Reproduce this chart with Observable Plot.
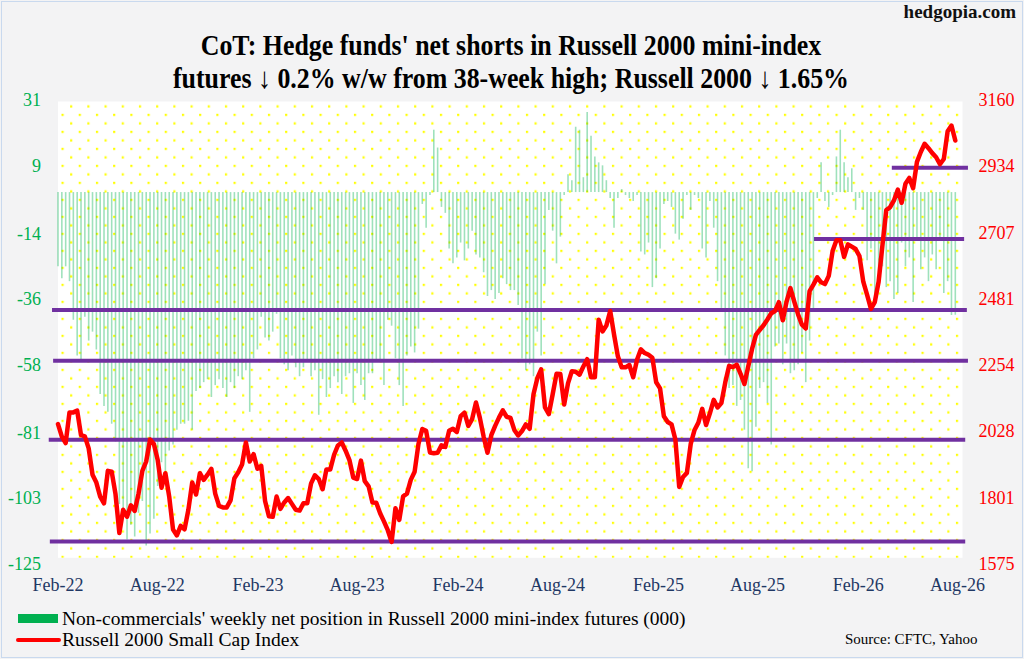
<!DOCTYPE html>
<html>
<head>
<meta charset="utf-8">
<script src="https://cdn.jsdelivr.net/npm/d3@7"></script>
<script src="https://cdn.jsdelivr.net/npm/@observablehq/plot@0.6"></script>
<style>
  html, body { margin: 0; padding: 0; }
  body { width: 1024px; height: 659px; position: relative; overflow: hidden; background: #f3f3f4;
         font-family: "Liberation Serif", "Times New Roman", serif; }
  .border { position: absolute; left: 1px; top: 1px; width: 1020px; height: 655px; border: 1px solid #c9d9ee; box-sizing: content-box; }
  .brand { position: absolute; top: 0px; left: 880px; width: 136px; text-align: right; font-weight: bold; font-size: 19px; line-height: 24px; color: #111; }
  .t { position: absolute; left: 0; width: 1022px; font-weight: bold; font-size: 29.5px; line-height: 30px; text-align: center; color: #000;
       white-space: nowrap; transform: scaleX(0.877); transform-origin: 511px 0; }
  #chart { position: absolute; left: 0; top: 88px; }
  .lg { position: absolute; font-size: 19.5px; line-height: 19px; color: #000; white-space: nowrap; }
  .src { position: absolute; font-size: 15px; line-height: 15px; color: #000; white-space: nowrap; }
</style>
</head>
<body>
<div class="border"></div>
<div class="brand">hedgopia.com</div>
<div class="t" style="top:30px;">CoT: Hedge funds' net shorts in Russell 2000 mini-index</div>
<div class="t" style="top:63px;">futures ↓ 0.2% w/w from 38-week high; Russell 2000 ↓ 1.65%</div>
<div id="chart"></div>
<div style="position:absolute; left:18px; top:614px; width:40px; height:9px; background:#00b050;"></div>
<div class="lg" style="left:62px; top:609px;">Non-commercials' weekly net position in Russell 2000 mini-index futures (000)</div>
<div style="position:absolute; left:16px; top:638px; width:45px; height:4px; border-radius:2px; background:#ff0000;"></div>
<div class="lg" style="left:62px; top:630px;">Russell 2000 Small Cap Index</div>
<div class="src" style="left:845px; top:632px;">Source: CFTC, Yahoo</div>
<script>
// ---- data ----
const startDate = "2022-02-01"; // first weekly observation
// Non-commercials' weekly net position (000 contracts)
const netPosition = [
-25,-29,-25,-30,-43,-55,-57,-42,-50,-47,
-53,-68,-72,-74,-78,-84,-105,-110,-117,-112,
-116,-108,-104,-119,-115,-110,-99,-91,-94,-87,
-85,-80,-78,-78,-77,-80,-67,-66,-64,-63,
-69,-65,-63,-66,-69,-64,-66,-62,-63,-60,
-74,-56,-53,-42,-49,-50,-47,-41,-56,-58,
-60,-55,-59,-62,-59,-57,-62,-60,-75,-63,
-69,-66,-62,-64,-68,-62,-61,-71,-61,-65,
-70,-61,-61,-57,-57,-65,-43,-45,-56,-65,
-72,-55,-52,-54,-46,-4,-12,-1,21,15,
-5,-7,-19,-24,-22,-17,-23,-19,-13,-21,
-22,-27,-35,-33,-36,-34,-29,-31,-33,-33,
-38,-56,-60,-58,-62,-47,-55,-31,-6,-13,
-24,-15,-1,6,4,22,21,5,27,19,
12,10,9,4,-2,-12,-2,1,-1,-2,
-3,-1,-20,-21,-17,-32,-29,-19,-4,-3,
-5,-14,-16,-9,-1,-6,-1,-2,-19,-22,
-3,-12,-30,-39,-55,-66,-65,-72,-70,-80,
-93,-94,-79,-66,-64,-71,-85,-52,-51,-58,
-51,-61,-60,-58,-54,-64,-50,-40,-2,10,
-3,-5,-1,12,21,10,5,8,-6,-2,
-6,-23,-19,-35,-27,-25,-32,-30,-36,-34,
-17,-25,-22,-37,-16,-26,-22,-30,-21,-26,
-16,-34,-30,-41.4,-41.3
];
// Russell 2000 Small Cap Index (weekly close)
const russell = [
2053,2010,1988,2093,2093,2099,2015,2011,1970,1880,
1853,1805,1782,1893,1890,1813,1680,1760,1736,1775,
1756,1815,1893,1925,2000,1985,1930,1835,1885,1805,
1692,1672,1705,1693,1760,1853,1812,1885,1862,1880,
1900,1815,1773,1768,1768,1792,1868,1888,1915,1990,
1925,1950,1900,1910,1790,1738,1736,1805,1763,1785,
1800,1780,1760,1757,1782,1782,1850,1878,1865,1830,
1898,1898,1948,1980,1990,1962,1930,1870,1865,1928,
1858,1840,1785,1784,1748,1720,1690,1650,1765,1725,
1806,1815,1862,1890,1985,2036,2030,1956,1953,1955,
1980,1975,2030,2037,2026,2080,2092,2047,2070,2127,
2075,2010,1955,2015,2047,2075,2100,2078,2074,2033,
2014,2029,2052,2037,2155,2210,2240,2110,2087,2155,
2225,2224,2120,2192,2234,2232,2222,2250,2275,2213,
2213,2410,2370,2390,2440,2360,2285,2247,2247,2255,
2213,2273,2309,2296,2290,2280,2196,2175,2080,2060,
2052,2000,1838,1872,1886,1985,2033,2058,2105,2050,
2090,2136,2110,2125,2195,2252,2248,2256,2225,2190,
2250,2310,2358,2375,2391,2411,2432,2440,2470,2408,
2472,2518,2472,2428,2393,2380,2508,2530,2555,2538,
2532,2560,2645,2682,2682,2625,2668,2660,2652,2628,
2540,2495,2447,2470,2540,2665,2785,2795,2818,2855,
2810,2875,2895,2860,2950,2984,3012,2997,2980,2966,
2942,2960,3055,3074,3023
];
// Horizontal support/resistance levels (Russell 2000 scale)
const levelValues = [1651, 1999, 2270, 2443, 2686, 2930];
const levelStarts = ["2022-01-18", "2022-01-16", "2022-01-24", "2022-01-22", "2025-11-13", "2026-04-04"];
const levelEnds   = ["2026-08-16", "2026-08-16", "2026-08-21", "2026-08-19", "2026-08-14", "2026-08-21"];
// Axis ticks
const leftTicks = [31, 9, -14, -36, -58, -81, -103, -125];
const rightTicks = [3160, 2934, 2707, 2481, 2254, 2028, 1801, 1575];
const xTickDates = ["2022-02-01","2022-08-01","2023-02-01","2023-08-01","2024-02-01","2024-08-01","2025-02-01","2025-08-01","2026-02-01","2026-08-01"];
const xTickLabels = ["Feb-22","Aug-22","Feb-23","Aug-23","Feb-24","Aug-24","Feb-25","Aug-25","Feb-26","Aug-26"];

// ---- build ----
const leftDomain = [-125, 31];
const rightDomain = [1575, 3160];
const toY = r => leftDomain[0] + (r - rightDomain[0]) * (leftDomain[1] - leftDomain[0]) / (rightDomain[1] - rightDomain[0]);
const fromY = y => rightDomain[0] + (y - leftDomain[0]) * (rightDomain[1] - rightDomain[0]) / (leftDomain[1] - leftDomain[0]);

const t0 = new Date(startDate + "T00:00:00Z");
const weeks = netPosition.map((v, i) => ({
  date: d3.utcDay.offset(t0, 7 * i),
  net: v,
  r: russell[i]
}));
const levels = levelValues.map((v, i) => ({
  y: toY(v),
  x1: new Date(levelStarts[i] + "T00:00:00Z"),
  x2: new Date(levelEnds[i] + "T00:00:00Z")
}));
const xTicks = xTickDates.map(d => new Date(d + "T00:00:00Z"));

const font = "'Liberation Serif', 'Times New Roman', serif";

const svg = Plot.plot({
  width: 1024,
  height: 512,
  marginTop: 12,
  marginBottom: 36.7,
  marginLeft: 57.5,
  marginRight: 67,
  style: { background: "transparent", fontFamily: font, overflow: "visible" },
  x: { type: "utc", domain: [new Date("2022-02-01T00:00:00Z"), new Date("2026-08-01T00:00:00Z")] },
  y: { domain: leftDomain },
  marks: [
    Plot.frame({ fill: "url(#dots)", stroke: "none", insetRight: -5, insetBottom: 6, insetTop: 1 }),
    Plot.ruleX(weeks, { x: "date", y1: 0, y2: "net", stroke: "#00b050", strokeOpacity: 0.38, strokeWidth: 1.6 }),
    Plot.ruleY(levels, { y: "y", x1: "x1", x2: "x2", stroke: "#7030a0", strokeWidth: 4 }),
    Plot.line(weeks, { x: "date", y: d => toY(d.r), stroke: "#ff0000", strokeWidth: 4.5, strokeLinejoin: "round", strokeLinecap: "round" }),
    Plot.axisY(leftTicks, { anchor: "left", tickSize: 0, tickPadding: 17, fontSize: 18, fill: "#00b050", tickFormat: d => String(d), fontFamily: font }),
    Plot.axisY(rightTicks.map(toY), { anchor: "right", tickSize: 0, tickPadding: 21, fontSize: 18, fill: "#ff0000", tickFormat: d => String(Math.round(fromY(d))), fontFamily: font }),
    Plot.axisX(xTicks, { anchor: "bottom", tickSize: 0, tickPadding: 14, fontSize: 18, fill: "#1f3864", tickFormat: d => xTickLabels[xTicks.findIndex(t => +t === +d)], fontFamily: font })
  ]
});

// dotted background pattern for the plot area
const ns = "http://www.w3.org/2000/svg";
const defs = document.createElementNS(ns, "defs");
defs.innerHTML = '<pattern id="dots" patternUnits="userSpaceOnUse" x="61" y="8.3" width="17.2" height="17">' +
  '<rect width="17.2" height="17" fill="#ffffff"/>' +
  '<rect x="0" y="0" width="2.2" height="2.2" fill="#ffff00"/>' +
  '<rect x="8.6" y="8.5" width="2.2" height="2.2" fill="#ffff00"/>' +
  '</pattern>';
svg.insertBefore(defs, svg.firstChild);
document.getElementById("chart").appendChild(svg);
</script>
</body>
</html>
